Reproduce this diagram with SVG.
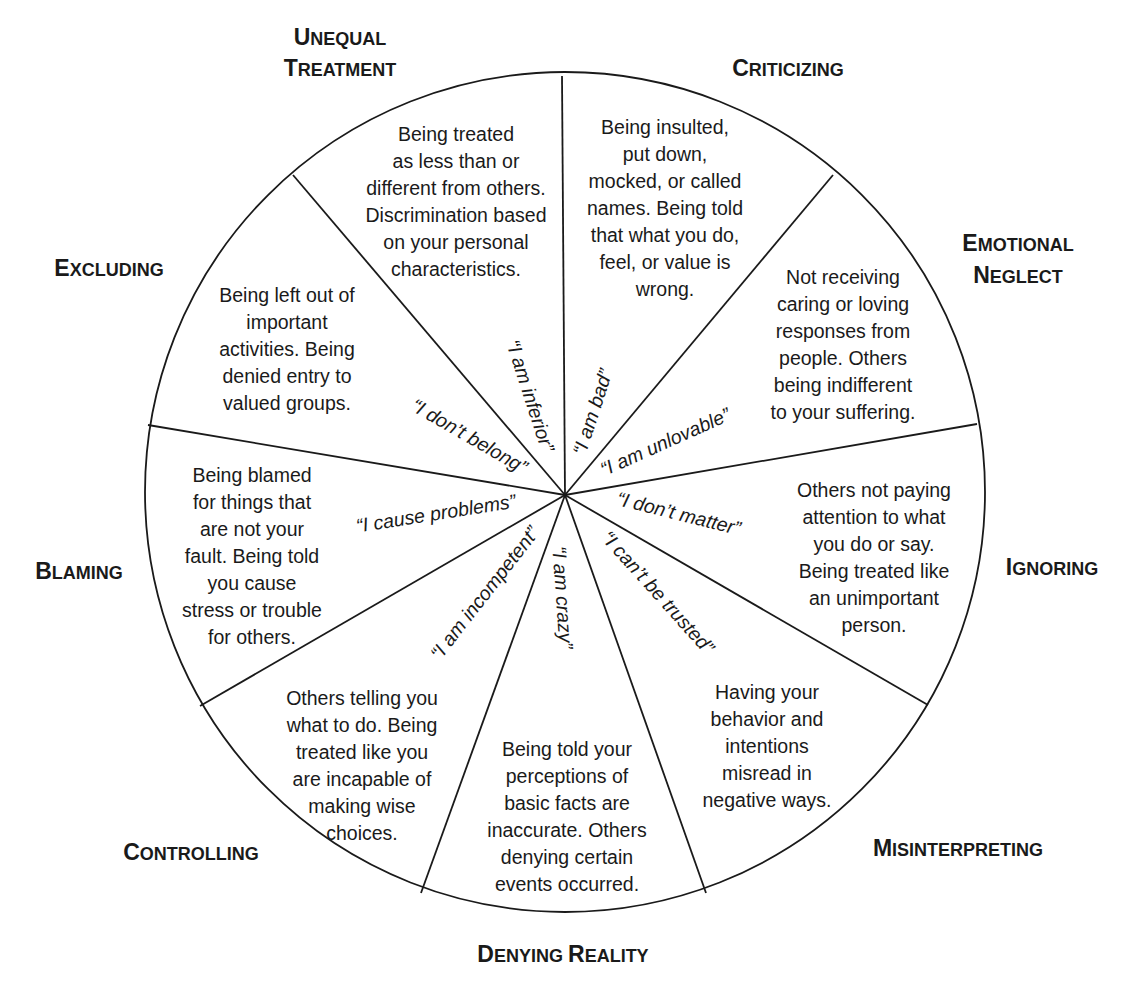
<svg xmlns="http://www.w3.org/2000/svg" width="1141" height="992" viewBox="0 0 1141 992">
<style>
.b{font-family:"Liberation Sans",Arial,sans-serif;font-size:19.5px;fill:#1a1a1a;text-anchor:middle}
.q{font-family:"Liberation Sans",Arial,sans-serif;font-size:19.5px;font-style:italic;fill:#1a1a1a;text-anchor:middle}
.t{font-family:"Liberation Sans",Arial,sans-serif;font-size:18px;font-weight:bold;fill:#1a1a1a;text-anchor:middle}
.t tspan.c{font-size:23px}
.l{stroke:#1a1a1a;stroke-width:1.8;fill:none}
</style>
<rect width="1141" height="992" fill="#fff"/>
<g id="wheel"><circle class="l" cx="565" cy="492" r="420" stroke-width="2"/></g>
<g id="connectors">
<line class="l" x1="565" y1="495" x2="562" y2="76"/>
<line class="l" x1="565" y1="495" x2="833" y2="175"/>
<line class="l" x1="565" y1="495" x2="977" y2="424"/>
<line class="l" x1="565" y1="495" x2="928" y2="705"/>
<line class="l" x1="565" y1="495" x2="706" y2="893"/>
<line class="l" x1="565" y1="495" x2="421" y2="893"/>
<line class="l" x1="565" y1="495" x2="200" y2="706"/>
<line class="l" x1="565" y1="495" x2="148" y2="425"/>
<line class="l" x1="565" y1="495" x2="293" y2="175"/>
</g>
<g id="unequal">
<text class="t" x="340" y="45"><tspan class="c">U</tspan>NEQUAL</text>
<text class="t" x="340" y="76"><tspan class="c">T</tspan>REATMENT</text>
<text class="b"><tspan x="456" y="141">Being treated</tspan><tspan x="456" y="168">as less than or</tspan><tspan x="456" y="195">different from others.</tspan><tspan x="456" y="222">Discrimination based</tspan><tspan x="456" y="249">on your personal</tspan><tspan x="456" y="276">characteristics.</tspan></text>
<text class="q" transform="translate(524,398) rotate(72)">“I am inferior”</text>
</g>
<g id="criticizing">
<text class="t" x="788" y="76"><tspan class="c">C</tspan>RITICIZING</text>
<text class="b"><tspan x="665" y="134">Being insulted,</tspan><tspan x="665" y="161">put down,</tspan><tspan x="665" y="188">mocked, or called</tspan><tspan x="665" y="215">names. Being told</tspan><tspan x="665" y="242">that what you do,</tspan><tspan x="665" y="269">feel, or value is</tspan><tspan x="665" y="296">wrong.</tspan></text>
<text class="q" transform="translate(599,414) rotate(-72)">“I am bad”</text>
</g>
<g id="emotional">
<text class="t" x="1018" y="251"><tspan class="c">E</tspan>MOTIONAL</text>
<text class="t" x="1018" y="283"><tspan class="c">N</tspan>EGLECT</text>
<text class="b"><tspan x="843" y="284">Not receiving</tspan><tspan x="843" y="311">caring or loving</tspan><tspan x="843" y="338">responses from</tspan><tspan x="843" y="365">people. Others</tspan><tspan x="843" y="392">being indifferent</tspan><tspan x="843" y="419">to your suffering.</tspan></text>
<text class="q" transform="translate(668,448) rotate(-24)">“I am unlovable”</text>
</g>
<g id="ignoring">
<text class="t" x="1052" y="575"><tspan class="c">I</tspan>GNORING</text>
<text class="b"><tspan x="874" y="497">Others not paying</tspan><tspan x="874" y="524">attention to what</tspan><tspan x="874" y="551">you do or say.</tspan><tspan x="874" y="578">Being treated like</tspan><tspan x="874" y="605">an unimportant</tspan><tspan x="874" y="632">person.</tspan></text>
<text class="q" transform="translate(677,520) rotate(14)">“I don’t matter”</text>
</g>
<g id="misinterpreting">
<text class="t" x="958" y="856"><tspan class="c">M</tspan>ISINTERPRETING</text>
<text class="b"><tspan x="767" y="699">Having your</tspan><tspan x="767" y="726">behavior and</tspan><tspan x="767" y="753">intentions</tspan><tspan x="767" y="780">misread in</tspan><tspan x="767" y="807">negative ways.</tspan></text>
<text class="q" transform="translate(653,597) rotate(48)">“I can’t be trusted”</text>
</g>
<g id="denying">
<text class="t" x="563" y="962"><tspan class="c">D</tspan>ENYING <tspan class="c">R</tspan>EALITY</text>
<text class="b"><tspan x="567" y="756">Being told your</tspan><tspan x="567" y="783">perceptions of</tspan><tspan x="567" y="810">basic facts are</tspan><tspan x="567" y="837">inaccurate. Others</tspan><tspan x="567" y="864">denying certain</tspan><tspan x="567" y="891">events occurred.</tspan></text>
<text class="q" transform="translate(556,598) rotate(86)">“I am crazy”</text>
</g>
<g id="controlling">
<text class="t" x="191" y="860"><tspan class="c">C</tspan>ONTROLLING</text>
<text class="b"><tspan x="362" y="705">Others telling you</tspan><tspan x="362" y="732">what to do. Being</tspan><tspan x="362" y="759">treated like you</tspan><tspan x="362" y="786">are incapable of</tspan><tspan x="362" y="813">making wise</tspan><tspan x="362" y="840">choices.</tspan></text>
<text class="q" transform="translate(490,597) rotate(-52)">“I am incompetent”</text>
</g>
<g id="blaming">
<text class="t" x="79" y="579"><tspan class="c">B</tspan>LAMING</text>
<text class="b"><tspan x="252" y="482">Being blamed</tspan><tspan x="252" y="509">for things that</tspan><tspan x="252" y="536">are not your</tspan><tspan x="252" y="563">fault. Being told</tspan><tspan x="252" y="590">you cause</tspan><tspan x="252" y="617">stress or trouble</tspan><tspan x="252" y="644">for others.</tspan></text>
<text class="q" transform="translate(437,520) rotate(-9)">“I cause problems”</text>
</g>
<g id="excluding">
<text class="t" x="109" y="276"><tspan class="c">E</tspan>XCLUDING</text>
<text class="b"><tspan x="287" y="302">Being left out of</tspan><tspan x="287" y="329">important</tspan><tspan x="287" y="356">activities. Being</tspan><tspan x="287" y="383">denied entry to</tspan><tspan x="287" y="410">valued groups.</tspan></text>
<text class="q" transform="translate(466,442) rotate(30)">“I don’t belong”</text>
</g>
</svg>
